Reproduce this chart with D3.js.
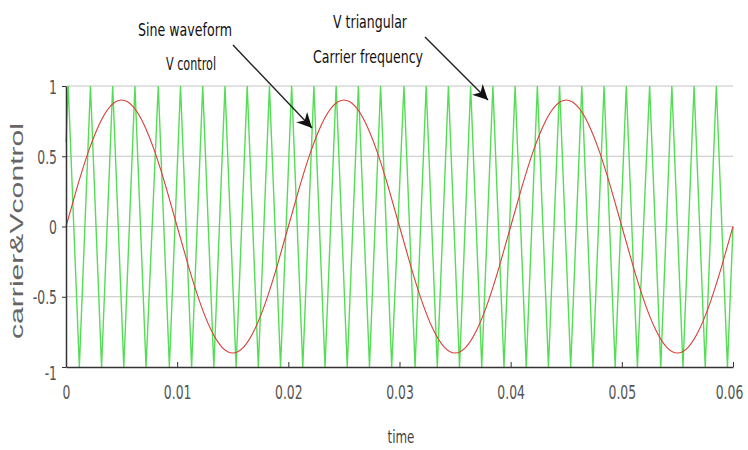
<html>
  <head>
    <style>
      body { margin: 0; background: #fff; }
      text { font-family: "DejaVu Sans", sans-serif; }
      .grid { stroke: #c4c4c4; stroke-width: 1; }
    </style>
    <script src="https://cdnjs.cloudflare.com/ajax/libs/d3/7.8.5/d3.min.js"></script>
  </head>
  <body>
    <script>
      // values
      var xTicks = [0, 0.01, 0.02, 0.03, 0.04, 0.05, 0.06];
      var xTickLabels = ["0", "0.01", "0.02", "0.03", "0.04", "0.05", "0.06"];
      var yTicks = [-1, -0.5, 0, 0.5, 1];
      var yTickLabels = ["-1", "-0.5", "0", "0.5", "1"];
      var yGrid = [-0.5, 0, 0.5, 1];

      // V control, sampled every 1 ms
      var sineStep = 0.001;
      var sineValues = [
        0, 0.278, 0.529, 0.728, 0.856, 0.9, 0.856, 0.728, 0.529, 0.278,
        0, -0.278, -0.529, -0.728, -0.856, -0.9, -0.856, -0.728, -0.529, -0.278,
        0, 0.278, 0.529, 0.728, 0.856, 0.9, 0.856, 0.728, 0.529, 0.278,
        0, -0.278, -0.529, -0.728, -0.856, -0.9, -0.856, -0.728, -0.529, -0.278,
        0, 0.278, 0.529, 0.728, 0.856, 0.9, 0.856, 0.728, 0.529, 0.278,
        0, -0.278, -0.529, -0.728, -0.856, -0.9, -0.856, -0.728, -0.529, -0.278,
        0
      ];

      // triangular carrier: times of its tops (+1) and bottoms (-1)
      var carrierPeaks = [
        0.0002, 0.0022, 0.0042, 0.0062, 0.0083, 0.0103, 0.0123, 0.0143, 0.0163, 0.0183,
        0.0203, 0.0223, 0.0243, 0.0263, 0.0283, 0.0304, 0.0324, 0.0344, 0.0364, 0.0384,
        0.0404, 0.0424, 0.0444, 0.0464, 0.0484, 0.0504, 0.0525, 0.0545, 0.0565, 0.0585
      ];
      var carrierTroughs = [
        0.0012, 0.0032, 0.0052, 0.0072, 0.0093, 0.0113, 0.0133, 0.0153, 0.0173, 0.0193,
        0.0213, 0.0233, 0.0253, 0.0273, 0.0293, 0.0314, 0.0334, 0.0354, 0.0374, 0.0394,
        0.0414, 0.0434, 0.0454, 0.0474, 0.0494, 0.0514, 0.0535, 0.0555, 0.0575, 0.0595
      ];
      var carrierStart = 0.6;
      var carrierEnd = 0;

      var svg = d3.select("body").append("svg")
        .attr("width", 748)
        .attr("height", 450);

      var x = d3.scaleLinear().domain([0, 0.06]).range([66, 733]);
      var y = d3.scaleLinear().domain([-1, 1]).range([367, 86]);

      // squeeze text to look like the narrow font of the original
      function narrow(sel, k) {
        sel.each(function() {
          var w = this.getComputedTextLength();
          d3.select(this).attr("textLength", w * k).attr("lengthAdjust", "spacingAndGlyphs");
        });
      }

      // horizontal grid
      svg.selectAll(".grid").data(yGrid).enter().append("line")
        .attr("class", "grid")
        .attr("x1", x(0)).attr("x2", x(0.06))
        .attr("y1", function(d) { return y(d); })
        .attr("y2", function(d) { return y(d); });

      // carrier
      var carrier = [[0, carrierStart]];
      carrierPeaks.forEach(function(t, i) {
        carrier.push([t, 1]);
        carrier.push([carrierTroughs[i], -1]);
      });
      carrier.push([0.06, carrierEnd]);

      var line = d3.line()
        .x(function(d) { return x(d[0]); })
        .y(function(d) { return y(d[1]); });

      svg.append("path")
        .datum(carrier)
        .attr("d", line)
        .attr("fill", "none")
        .attr("stroke", "#55dd55")
        .attr("stroke-width", 1.4);

      // sine
      var sine = sineValues.map(function(v, i) { return [i * sineStep, v]; });
      svg.append("path")
        .datum(sine)
        .attr("d", line.curve(d3.curveNatural))
        .attr("fill", "none")
        .attr("stroke", "#d8403a")
        .attr("stroke-width", 1.1);

      // axes
      var xAxis = d3.axisBottom(x).tickValues(xTicks)
        .tickFormat(function(d, i) { return xTickLabels[i]; })
        .tickSizeInner(-5).tickSizeOuter(0).tickPadding(23);
      var gx = svg.append("g").attr("transform", "translate(0," + y(-1) + ")").call(xAxis);

      var yAxis = d3.axisLeft(y).tickValues(yTicks)
        .tickFormat(function(d, i) { return yTickLabels[i]; })
        .tickSizeInner(4).tickSizeOuter(0).tickPadding(5);
      var gy = svg.append("g").attr("transform", "translate(" + x(0) + ",0)").call(yAxis);

      [gx, gy].forEach(function(g) {
        g.select(".domain").attr("stroke", "#333").attr("stroke-width", 1.5);
        g.selectAll(".tick line").attr("stroke", "#333");
        g.selectAll(".tick text")
          .attr("fill", "#555")
          .attr("font-size", 20);
        narrow(g.selectAll(".tick text"), 0.62);
      });
      gx.selectAll(".tick text").attr("dy", "0.45em");
      gx.selectAll(".tick text").filter(function(d) { return d === 0.06; }).attr("dx", "-4");
      gy.selectAll(".tick text").attr("dy", function(d) { return d === -1 ? "0.6em" : "0.35em"; });

      // axis titles
      var tx = svg.append("text")
        .attr("x", 401).attr("y", 443)
        .attr("text-anchor", "middle")
        .attr("fill", "#444").attr("font-size", 18)
        .text("time");
      narrow(tx, 0.66);

      svg.append("text")
        .attr("transform", "translate(23,231) rotate(-90)")
        .attr("text-anchor", "middle")
        .attr("fill", "#666")
        .style("font-family", "'Liberation Sans', Arial, sans-serif")
        .attr("font-size", 18)
        .attr("textLength", 216)
        .attr("lengthAdjust", "spacingAndGlyphs")
        .text("carrier&Vcontrol");

      // annotations
      var notes = [
        { t: "Sine waveform", x: 185, y: 36, w: 94 },
        { t: "V control", x: 191, y: 70, w: 50 },
        { t: "V triangular", x: 370, y: 28, w: 74 },
        { t: "Carrier frequency", x: 368, y: 63, w: 110 }
      ];
      svg.selectAll(".note").data(notes).enter().append("text")
        .attr("x", function(d) { return d.x; })
        .attr("y", function(d) { return d.y; })
        .attr("text-anchor", "middle")
        .attr("fill", "#111")
        .attr("font-size", 17)
        .attr("textLength", function(d) { return d.w; })
        .attr("lengthAdjust", "spacingAndGlyphs")
        .text(function(d) { return d.t; });

      svg.append("defs").append("marker")
        .attr("id", "head")
        .attr("viewBox", "0 0 10 10")
        .attr("refX", 10).attr("refY", 5)
        .attr("markerWidth", 15).attr("markerHeight", 15)
        .attr("markerUnits", "userSpaceOnUse")
        .attr("orient", "auto")
        .append("path").attr("d", "M0,0 L10,5 L0,10 L3,5 Z").attr("fill", "#111");

      var arrows = [
        { x1: 233, y1: 45, x2: 312, y2: 128 },
        { x1: 425, y1: 37, x2: 488, y2: 100 }
      ];
      svg.selectAll(".arrow").data(arrows).enter().append("line")
        .attr("x1", function(d) { return d.x1; })
        .attr("y1", function(d) { return d.y1; })
        .attr("x2", function(d) { return d.x2; })
        .attr("y2", function(d) { return d.y2; })
        .attr("stroke", "#222")
        .attr("stroke-width", 1.4)
        .attr("marker-end", "url(#head)");
    </script>
  </body>
</html>
